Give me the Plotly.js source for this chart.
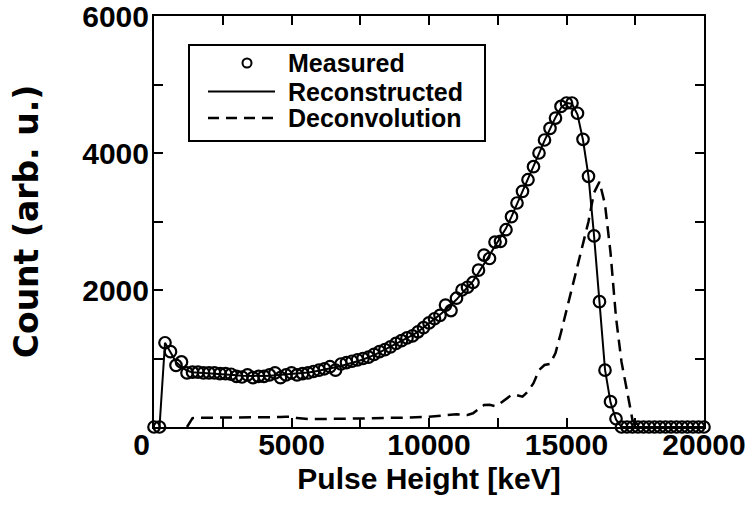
<!DOCTYPE html>
<html>
<head>
<meta charset="utf-8">
<script src="https://cdn.plot.ly/plotly-3.0.1.min.js"></script>
<style>html,body{margin:0;padding:0;background:#fff;}#chart{width:746px;height:512px;}</style>
</head>
<body>
<div id="chart"></div>
<script>
// Measured (open circles)
const measuredX = [0,200,400,600,800,1000,1200,1400,1600,1800,2000,2200,2400,2600,2800,3000,3200,3400,3600,3800,4000,4200,4400,4600,4800,5000,5200,5400,5600,5800,6000,6200,6400,6600,6800,7000,7200,7400,7600,7800,8000,8200,8400,8600,8800,9000,9200,9400,9600,9800,10000,10200,10400,10600,10800,11000,11200,11400,11600,11800,12000,12200,12400,12600,12800,13000,13200,13400,13600,13800,14000,14200,14400,14600,14800,15000,15200,15400,15600,15800,16000,16200,16400,16600,16800,17000,17200,17400,17600,17800,18000,18200,18400,18600,18800,19000,19200,19400,19600,19800,20000];
const measuredY = [0,0,1230,1100,900,950,790,800,800,790,790,790,780,780,770,740,730,760,720,740,740,760,790,720,760,790,760,780,790,810,830,850,880,830,920,940,960,980,1000,1020,1060,1100,1130,1170,1220,1260,1300,1330,1390,1450,1520,1580,1630,1780,1700,1880,2000,2040,2110,2290,2510,2460,2700,2710,2880,3070,3270,3440,3610,3800,4000,4190,4360,4510,4680,4730,4730,4580,4200,3660,2790,1830,830,370,120,0,0,0,0,0,0,0,0,0,0,0,0,0,0,0,0];

// Reconstructed (solid line)
const reconX = [200,400,600,800,1000,1200,1400,1600,1800,2000,2200,2400,2600,2800,3000,3200,3400,3600,3800,4000,4200,4400,4600,4800,5000,5200,5400,5600,5800,6000,6200,6400,6600,6800,7000,7200,7400,7600,7800,8000,8200,8400,8600,8800,9000,9200,9400,9600,9800,10000,10200,10400,10600,10800,11000,11200,11400,11600,11800,12000,12200,12400,12600,12800,13000,13200,13400,13600,13800,14000,14200,14400,14600,14800,15000,15200,15400,15600,15800,16000,16200,16400,16600,16800,17000,17200,17400,17600,17800,18000,18200,18400,18600,18800,19000,19200,19400,19600,19800,20000];
const reconY = [0,1230,1090,950,880,820,800,795,790,788,785,780,775,765,755,748,745,742,742,745,750,755,760,765,772,778,786,795,808,822,838,855,872,890,910,935,960,985,1015,1050,1090,1130,1170,1215,1260,1300,1340,1390,1450,1510,1570,1640,1710,1780,1860,1950,2040,2130,2250,2380,2500,2640,2760,2900,3070,3250,3430,3610,3800,3990,4180,4360,4520,4660,4730,4720,4560,4190,3660,2800,1820,840,360,110,0,0,0,0,0,0,0,0,0,0,0,0,0,0,0,0];

// Deconvolution (dashed line)
const deconX = [1200,1400,1600,1800,2000,2200,2400,2600,2800,3000,3200,3400,3600,3800,4000,4200,4400,4600,4800,5000,5200,5400,5600,5800,6000,6200,6400,6600,6800,7000,7200,7400,7600,7800,8000,8200,8400,8600,8800,9000,9200,9400,9600,9800,10000,10200,10400,10600,10800,11000,11200,11400,11600,11800,12000,12200,12400,12600,12800,13000,13200,13400,13600,13800,14000,14200,14400,14600,14800,15000,15200,15400,15600,15800,16000,16200,16400,16600,16800,17000,17200,17400,17600];
const deconY = [0,130,135,135,135,135,135,135,135,135,135,135,135,135,135,140,140,145,150,150,130,120,115,115,115,115,115,115,115,115,120,120,125,127,130,135,135,135,135,135,135,135,140,145,150,158,165,175,185,185,180,175,200,260,320,325,306,350,410,467,465,442,520,640,830,905,920,1080,1380,1700,2000,2330,2650,3000,3420,3580,3250,2550,1600,950,530,100,0];

const seriesNames = ['Measured', 'Reconstructed', 'Deconvolution'];

const xTickVals = [0,2500,5000,7500,10000,12500,15000,17500,20000];
const xTickText = ['0\u00a0\u00a0\u00a0','','5000','','10000','','15000','','20000'];
const yTickVals = [0,1000,2000,3000,4000,5000,6000];
const yTickText = ['','','2000','','4000','','6000'];

const FONT = 'Liberation Sans, Arial, Helvetica, sans-serif';

const traces = [
  {x: measuredX, y: measuredY, type: 'scatter', mode: 'markers', name: seriesNames[0],
   marker: {symbol: 'circle-open', size: 11.5, color: '#000', line: {width: 2.2, color: '#000'}},
   cliponaxis: false},
  {x: reconX, y: reconY, type: 'scatter', mode: 'lines', name: seriesNames[1],
   line: {color: '#000', width: 2}},
  {x: deconX, y: deconY, type: 'scatter', mode: 'lines', name: seriesNames[2],
   line: {color: '#000', width: 2.5, dash: '12px,7px'}}
];

const axisCommon = {
  showgrid: false, zeroline: false, showline: true, linecolor: '#000', linewidth: 2,
  mirror: 'ticks', ticks: 'inside', ticklen: 9, tickwidth: 2, tickcolor: '#000',
  ticklabeloverflow: 'allow',
  tickfont: {family: FONT, size: 30, color: '#000', weight: 'bold'}
};

// legend drawn in plot-paper fractions (plot area 550 x 411 px)
const px = v => (v - 154) / 550;
const py = v => (427 - v) / 411;
const legRows = [63, 91.5, 118];

const shapes = [
  {type: 'rect', xref: 'paper', yref: 'paper', x0: px(189), x1: px(485), y0: py(141), y1: py(45),
   line: {color: '#000', width: 2}, fillcolor: '#fff', layer: 'above'},
  {type: 'circle', xref: 'paper', yref: 'paper', xsizemode: 'pixel', ysizemode: 'pixel',
   xanchor: px(247), yanchor: py(legRows[0]), x0: -4.5, x1: 4.5, y0: -4.5, y1: 4.5,
   line: {color: '#000', width: 2}, layer: 'above'},
  {type: 'line', xref: 'paper', yref: 'paper', x0: px(208), x1: px(275), y0: py(legRows[1]), y1: py(legRows[1]),
   line: {color: '#000', width: 2}, layer: 'above'},
  {type: 'line', xref: 'paper', yref: 'paper', x0: px(208), x1: px(275), y0: py(legRows[2]), y1: py(legRows[2]),
   line: {color: '#000', width: 2.5, dash: '11px,7px'}, layer: 'above'}
];

const annotations = seriesNames.map((n, i) => ({
  text: n, xref: 'paper', yref: 'paper', x: px(286), y: py(legRows[i]),
  xanchor: 'left', yanchor: 'middle', showarrow: false,
  font: {family: FONT, size: 25, color: '#000', weight: 'bold'}
}));

const layout = {
  width: 746, height: 512,
  margin: {l: 154, r: 42, t: 16, b: 85},
  paper_bgcolor: '#fff', plot_bgcolor: '#fff',
  font: {family: FONT, color: '#000', weight: 'bold'},
  showlegend: false,
  shapes: shapes,
  annotations: annotations,
  xaxis: Object.assign({}, axisCommon, {
    range: [0, 20000], tickmode: 'array', tickvals: xTickVals, ticktext: xTickText,
    ticklabelstandoff: -10,
    title: {text: 'Pulse Height [keV]', font: {family: FONT, size: 30, color: '#000', weight: 'bold'}, standoff: 8}
  }),
  yaxis: Object.assign({}, axisCommon, {
    range: [0, 6000], tickmode: 'array', tickvals: yTickVals, ticktext: yTickText,
    ticklabelstandoff: -3,
    title: {text: 'Count (arb. u.)', font: {family: 'DejaVu Sans, Liberation Sans, sans-serif', size: 33, color: '#000', weight: 'bold'}, standoff: 34}
  })
};

Plotly.newPlot('chart', traces, layout, {displayModeBar: false, staticPlot: true});
</script>
</body>
</html>
